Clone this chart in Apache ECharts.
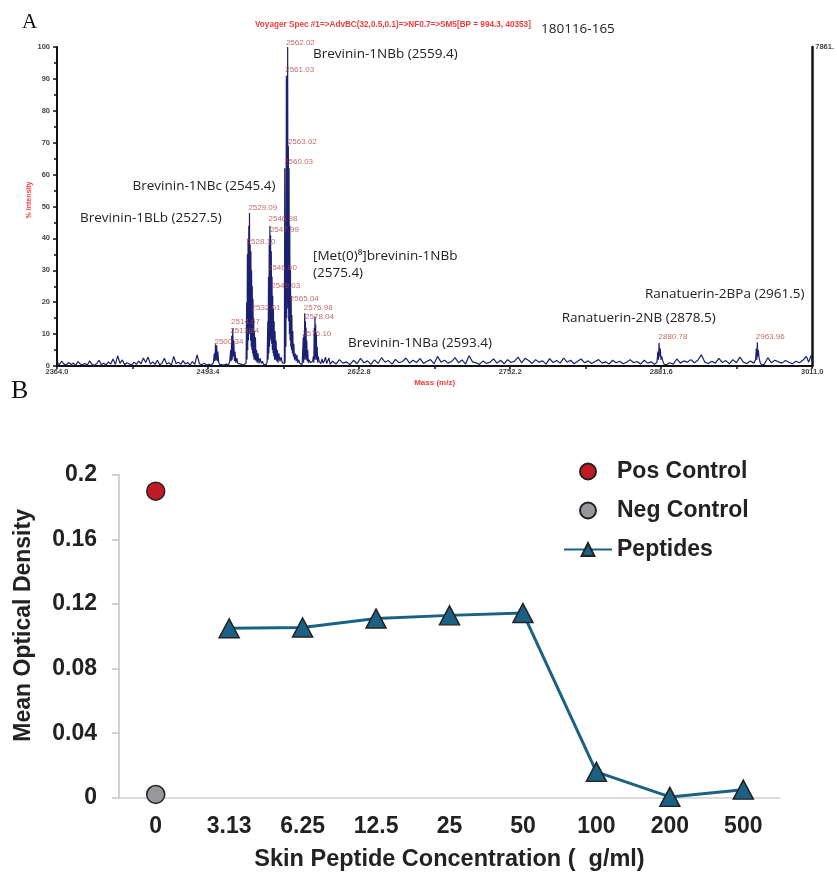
<!DOCTYPE html>
<html>
<head>
<meta charset="utf-8">
<script src="https://cdn.jsdelivr.net/npm/echarts@6/dist/echarts.min.js"></script>
<style>
html,body{margin:0;padding:0;background:#fff;}
#chart{width:837px;height:874px;}
</style>
</head>
<body>
<div id="chart"></div>
<script>
// ---------------- Panel A : MALDI-TOF spectrum ----------------
var massTicks = [2364.0, 2493.4, 2622.8, 2752.2, 2881.6, 3011.0];
var massMinorTicks = [2428.7, 2558.1, 2687.5, 2816.9, 2946.3];

// baseline noise left of peptide cluster [m/z, % intensity]
var noiseLeft = [
 [2364,1.2],[2366,0.4],[2368,1.5],[2370,0.6],[2372,0.3],[2374,1.1],[2376,0.5],[2378,0.9],[2380,0.2],[2382,1.4],
 [2384,0.6],[2386,0.4],[2388,0.8],[2390,0.3],[2392,1.6],[2394,0.5],[2396,0.2],[2398,0.7],[2400,1.8],[2402,0.4],
 [2404,0.9],[2406,0.3],[2408,1.3],[2410,0.6],[2412,2.2],[2414,0.5],[2416,3.2],[2418,0.8],[2420,1.9],[2422,0.4],
 [2424,1.0],[2426,0.6],[2428,0.3],[2430,1.2],[2432,0.5],[2434,1.5],[2436,0.7],[2438,2.5],[2440,1.1],[2442,2.8],
 [2444,0.6],[2446,1.3],[2448,0.5],[2450,1.8],[2452,0.4],[2454,0.9],[2456,2.4],[2458,0.6],[2460,1.0],[2462,0.3],
 [2464,3.0],[2466,0.8],[2468,1.2],[2470,0.5],[2472,1.7],[2474,0.6],[2476,1.1],[2478,0.3],[2480,1.4],[2482,0.5],
 [2484,3.5],[2486,0.7],[2488,0.4],[2490,0.9],[2492,0.3],[2494,0.5]
];
// peptide cluster 2495-2600
var peakCluster = [
 [2496,0.3],[2497,0.2],[2498,1.0],[2498.8,4],[2499.3,1.5],[2499.8,6.8],[2500.3,2],[2500.8,6.5],[2501.3,1.5],[2501.8,4.5],
 [2502.5,1.2],[2503.5,0.5],[2505,0.8],[2507,0.3],[2509,0.6],[2511,0.4],[2512,1.5],[2512.8,5],[2513.2,1.5],[2513.7,9.5],
 [2514.1,2],[2514.6,11.8],[2515.0,3],[2515.5,8],[2516,1.5],[2516.5,4.5],[2517.2,1.0],[2518,2.5],[2519,0.8],[2520,1.2],
 [2522,0.5],[2524,0.3],[2525,0.6],[2526,1.0],[2526.5,20],[2526.8,2],[2527.1,35],[2527.4,5],[2527.7,40],[2528.0,8],
 [2528.3,44],[2528.6,10],[2528.9,48],[2529.2,12],[2529.5,38],[2529.8,8],[2530.1,36],[2530.4,6],[2530.7,30],[2531.0,5],
 [2531.3,25],[2531.6,4],[2531.9,21],[2532.2,3],[2532.5,15],[2532.8,2],[2533.1,11],[2533.5,2],[2534,9],[2534.5,1.5],
 [2535,5],[2535.5,1],[2536.2,4],[2537,0.8],[2538,2.5],[2539,0.8],[2540,1.5],[2541,0.5],[2542,0.8],[2543,0.4],
 [2544,1.2],[2544.6,14],[2544.9,2],[2545.2,28],[2545.5,4],[2545.8,38],[2546.1,6],[2546.4,44],[2546.7,8],[2547.0,41],
 [2547.3,9],[2547.6,36],[2547.9,7],[2548.2,28],[2548.5,5],[2548.8,22],[2549.1,4],[2549.4,18],[2549.7,3],[2550.0,14],
 [2550.4,2],[2550.8,11],[2551.2,2],[2551.7,8],[2552.2,1.5],[2552.8,5],[2553.4,1],[2554,4],[2555,1.5],[2556,2.8],
 [2557,1.0],[2558,0.6],[2558.8,0.8],[2559.1,62],[2559.4,1],[2559.8,35],[2560.1,6],[2560.5,91],[2560.8,15],[2561.1,88],
 [2561.4,20],[2561.6,100],[2561.9,18],[2562.2,69],[2562.5,14],[2562.8,62],[2563.1,10],[2563.4,44],[2563.7,8],[2564.0,30],
 [2564.3,6],[2564.6,22],[2564.9,5],[2565.2,16],[2565.6,4],[2566.0,11],[2566.4,3],[2566.9,7],[2567.4,2],[2568,4],
 [2568.8,1.5],[2569.5,3.5],[2570.2,1],[2571,2.0],[2572,0.8],[2573,1.2],[2574,0.5],[2575.0,9],[2575.3,1],[2575.6,10],
 [2575.9,2],[2576.2,16.5],[2576.5,3],[2576.8,14],[2577.1,2],[2577.4,12],[2577.7,2],[2578.0,8],[2578.4,1.5],[2578.8,5],
 [2579.3,1],[2580,2],[2581,1],[2582,0.8],[2583,1.5],[2583.6,3],[2584,1],[2584.4,12],[2584.7,2],[2585.0,15.5],
 [2585.3,3],[2585.6,13],[2585.9,2],[2586.2,10],[2586.5,2],[2586.9,6],[2587.3,1],[2587.8,3],[2588.5,1.5],[2589,1],
 [2590,0.7],[2591,2.2],[2592,0.9],[2593,1.6],[2594,2.8],[2595,0.8],[2596,1.2],[2597,2.5],[2598,0.6],[2599,1.0]
];
// baseline right of cluster incl. ranatuerin peaks
var noiseRight = [
 [2600,1.5],[2603,0.6],[2606,2.0],[2609,0.9],[2612,1.3],[2615,0.4],[2618,1.8],[2621,0.7],[2624,2.4],[2627,1.0],
 [2630,1.6],[2633,0.5],[2636,1.9],[2639,0.8],[2642,2.6],[2645,1.2],[2648,1.7],[2651,0.6],[2654,2.1],[2657,1.0],
 [2660,1.4],[2663,2.5],[2666,0.9],[2669,1.8],[2672,1.1],[2675,2.3],[2678,0.8],[2681,1.5],[2684,2.0],[2687,0.7],
 [2690,3.0],[2693,1.2],[2696,1.8],[2699,0.9],[2702,1.4],[2705,2.6],[2708,1.0],[2711,1.9],[2714,0.6],[2717,3.2],
 [2720,1.3],[2723,1.0],[2726,0.5],[2729,1.6],[2732,0.8],[2735,1.2],[2738,2.2],[2741,0.9],[2744,1.8],[2747,0.7],
 [2750,2.0],[2753,1.1],[2756,1.5],[2759,2.8],[2762,1.0],[2765,2.4],[2768,1.7],[2771,0.8],[2774,2.0],[2777,1.2],
 [2780,1.6],[2783,0.6],[2786,2.3],[2789,1.1],[2792,1.7],[2795,0.9],[2798,2.5],[2801,1.2],[2804,1.8],[2807,0.7],
 [2810,1.5],[2813,2.2],[2816,1.0],[2819,1.6],[2822,0.8],[2825,1.4],[2828,2.0],[2831,0.9],[2834,1.3],[2837,0.6],
 [2840,1.8],[2843,1.0],[2846,1.5],[2849,0.7],[2852,1.2],[2855,2.0],[2858,1.0],[2861,1.4],[2864,0.6],[2867,1.8],
 [2870,0.9],[2873,1.3],[2876,0.5],[2878,1.2],[2878.8,4.5],[2879.3,2],[2879.8,7.3],[2880.3,3],[2880.8,5.5],[2881.4,2],
 [2882,3.0],[2883,1.6],[2884,0.6],[2886,0.4],[2889,1.0],[2892,0.6],[2895,2.2],[2898,0.9],[2901,1.6],[2904,1.2],
 [2907,2.0],[2910,1.0],[2913,1.8],[2916,3.5],[2919,1.2],[2922,0.8],[2925,1.5],[2928,0.9],[2931,2.4],[2934,1.1],
 [2937,1.7],[2940,0.7],[2943,2.0],[2946,1.0],[2949,2.8],[2952,1.2],[2955,0.8],[2958,1.6],[2961,0.9],[2962.5,2.0],
 [2963.1,5.5],[2963.5,2],[2964,7.4],[2964.4,3],[2964.8,5.0],[2965.5,2.5],[2966.5,1.0],[2968,0.3],[2970,0.6],[2973,2.6],
 [2976,1.0],[2979,1.8],[2982,1.3],[2985,0.9],[2988,1.7],[2991,1.2],[2994,0.7],[2997,1.5],[3000,1.0],[3003,1.8],
 [3006,3.0],[3008,1.2],[3010,3.3],[3011,1.5]
];
// peak m/z labels: text, anchor m/z, anchor % intensity
var peakLabelText = ['2562.02','2561.03','2563.02','2560.03','2529.09','2528.10','2546.98','2547.99','2546.00','2549.03',
 '2565.04','2532.01','2576.98','2578.04','2514.67','2513.84','2576.10','2500.34','2880.78','2963.96'];
var peakLabelMz = [2560.1,2559.5,2561.8,2558.6,2527.9,2526.4,2545.2,2546.4,2544.7,2547.5,
 2563.5,2530.7,2575.4,2576.5,2513.1,2512.5,2574.2,2498.9,2879.3,2962.6];
var peakLabelY = [101.3,92.9,70.3,64.0,49.7,39.0,46.0,42.7,30.8,25.2,
 21.2,18.1,18.3,15.3,13.9,11.1,10.1,7.6,9.0,9.0];

// ---------------- Panel B : optical density ----------------
var concCategories = ['0','3.13','6.25','12.5','25','50','100','200','500'];
var posControl = [['0', 0.19]];
var negControl = [['0', 0.002]];
var peptideOD = [null, 0.105, 0.1055, 0.111, 0.113, 0.1145, 0.016, 0.0005, 0.005];

var spectrum = noiseLeft.concat(peakCluster, noiseRight);
var peakLabels = peakLabelText.map(function (t, i) { return [peakLabelMz[i], peakLabelY[i], t]; });

var chart = echarts.init(document.getElementById('chart'), null, {renderer: 'canvas'});
var fA = '"Liberation Sans", Arial, sans-serif';
var fAnn = '"Open Sans", sans-serif';

function txt(x, y, text, font, fill, align, rot) {
  return {type: 'text', x: x, y: y, rotation: rot || 0, silent: true,
    style: {text: text, font: font, fill: fill, align: align || 'left', verticalAlign: 'middle',
            textAlign: align || 'left', textVerticalAlign: 'middle'}};
}

var option = {
  animation: false,
  backgroundColor: '#ffffff',
  grid: [
    {left: 57, top: 47, width: 758, height: 319},
    {left: 119, top: 475, width: 661, height: 322.7}
  ],
  legend: {
    orient: 'vertical', left: 558, top: 455, itemWidth: 48, itemHeight: 16, itemGap: 16,
    textStyle: {fontFamily: fA, fontWeight: 'bold', fontSize: 23, color: '#222'},
    data: ['Pos Control', 'Neg Control', 'Peptides']
  },
  xAxis: [
    {type: 'value', gridIndex: 0, min: 2364, max: 3011,
     name: 'Mass (m/z)', nameLocation: 'middle', nameGap: 13,
     nameTextStyle: {color: '#f03c3c', fontFamily: fA, fontWeight: 'bold', fontSize: 8},
     axisLine: {show: true, lineStyle: {color: '#111', width: 2}},
     axisTick: {show: true, customValues: massTicks, length: 3, lineStyle: {color: '#111', width: 1.5}},
     axisLabel: {customValues: massTicks, margin: 2, fontFamily: fA, fontWeight: 'bold', fontSize: 7.5, color: '#444',
       formatter: function (v) { return v.toFixed(1); }},
     splitLine: {show: false}},
    {type: 'value', gridIndex: 0, min: 2364, max: 3011, position: 'bottom',
     axisLine: {show: false},
     axisTick: {show: true, customValues: massMinorTicks, length: 3, lineStyle: {color: '#111', width: 1.5}},
     axisLabel: {show: false}, splitLine: {show: false}},
    {type: 'category', gridIndex: 1, data: concCategories, boundaryGap: true,
     name: 'Skin Peptide Concentration (  g/ml)', nameLocation: 'middle', nameGap: 50,
     nameTextStyle: {fontFamily: fA, fontWeight: 'bold', fontSize: 23.5, color: '#222'},
     axisLine: {lineStyle: {color: '#d0d0d0', width: 1.5}},
     axisTick: {show: false},
     axisLabel: {margin: 17, fontFamily: fA, fontWeight: 'bold', fontSize: 23, color: '#222'}}
  ],
  yAxis: [
    {type: 'value', gridIndex: 0, min: 0, max: 100, interval: 10,
     axisLine: {show: true, lineStyle: {color: '#111', width: 2}},
     axisTick: {show: true, length: 4, lineStyle: {color: '#111', width: 1.5}},
     minorTick: {show: true, splitNumber: 2, length: 3, lineStyle: {color: '#111', width: 1.5}},
     axisLabel: {margin: 7, fontFamily: fA, fontWeight: 'bold', fontSize: 7.5, color: '#444'},
     splitLine: {show: false}},
    {type: 'value', gridIndex: 0, min: 0, max: 100, position: 'right',
     axisLine: {show: true, lineStyle: {color: '#111', width: 2.5}},
     axisTick: {show: false},
     axisLabel: {customValues: [100], margin: 3, fontFamily: fA, fontWeight: 'bold', fontSize: 7.5, color: '#444',
       formatter: function () { return '7861.'; }},
     splitLine: {show: false}},
    {type: 'value', gridIndex: 1, min: 0, max: 0.2, interval: 0.04,
     name: 'Mean Optical Density', nameLocation: 'middle', nameGap: 84,
     nameTextStyle: {fontFamily: fA, fontWeight: 'bold', fontSize: 23, color: '#222', padding: [0, 0, 0, 22]},
     axisLine: {show: true, lineStyle: {color: '#c4c4c4', width: 1.5}},
     axisTick: {show: true, length: 7, lineStyle: {color: '#c4c4c4', width: 1.5}},
     axisLabel: {margin: 22, fontFamily: fA, fontWeight: 'bold', fontSize: 23, color: '#222'},
     splitLine: {show: false}}
  ],
  series: [
    {type: 'line', name: 'spectrum', xAxisIndex: 0, yAxisIndex: 0, data: spectrum,
     showSymbol: false, symbol: 'none', lineStyle: {color: '#1c2070', width: 1.2}, silent: true, z: 2},
    {type: 'scatter', name: 'peakLabels', xAxisIndex: 0, yAxisIndex: 0, data: peakLabels, clip: false,
     symbolSize: 0, silent: true, z: 3,
     label: {show: true, position: 'right', distance: 0, formatter: function (p) { return p.data[2]; },
       fontFamily: fA, fontSize: 8, color: '#ad4646'}},
    {type: 'scatter', name: 'Pos Control', xAxisIndex: 2, yAxisIndex: 2, data: posControl,
     symbol: 'circle', symbolSize: 18, itemStyle: {color: '#c21a24', opacity: 1, borderColor: '#222', borderWidth: 1.5}},
    {type: 'scatter', name: 'Neg Control', xAxisIndex: 2, yAxisIndex: 2, data: negControl,
     symbol: 'circle', symbolSize: 18, itemStyle: {color: '#97989c', opacity: 1, borderColor: '#222', borderWidth: 1.5}},
    {type: 'line', name: 'Peptides', xAxisIndex: 2, yAxisIndex: 2, data: peptideOD,
     symbol: 'triangle', symbolSize: [20, 19], showSymbol: true,
     lineStyle: {color: '#1b6184', width: 3},
     itemStyle: {color: '#1b6184', borderColor: '#222', borderWidth: 1.5}, z: 4}
  ],
  graphic: [
    txt(22, 22, 'A', '21px "Liberation Serif", "Times New Roman", serif', '#111'),
    txt(11, 391, 'B', '26px "Liberation Serif", "Times New Roman", serif', '#111'),
    txt(29.5, 200, '% Intensity', 'bold 7px ' + fA, '#f03c3c', 'center', Math.PI / 2),
    txt(255, 25, 'Voyager Spec #1=>AdvBC(32,0.5,0.1)=>NF0.7=>SM5[BP = 994.3, 40353]', 'bold 8.2px ' + fA, '#f03c3c'),
    txt(541, 29, '180116-165', '13.5px ' + fAnn, '#222'),
    txt(313, 54.5, 'Brevinin-1NBb (2559.4)', '13.5px ' + fAnn, '#222'),
    txt(132.5, 186.5, 'Brevinin-1NBc (2545.4)', '13.5px ' + fAnn, '#222'),
    txt(80, 218, 'Brevinin-1BLb (2527.5)', '13.5px ' + fAnn, '#222'),
    txt(313, 256, '[Met(0)\u2078]brevinin-1NBb', '13.5px ' + fAnn, '#222'),
    txt(313, 273.3, '(2575.4)', '13.5px ' + fAnn, '#222'),
    txt(348, 343.3, 'Brevinin-1NBa (2593.4)', '13.5px ' + fAnn, '#222'),
    txt(645, 294.3, 'Ranatuerin-2BPa (2961.5)', '13.5px ' + fAnn, '#222'),
    txt(561.7, 318.3, 'Ranatuerin-2NB (2878.5)', '13.5px ' + fAnn, '#222')
  ]
};
chart.setOption(option);
</script>
</body>
</html>
